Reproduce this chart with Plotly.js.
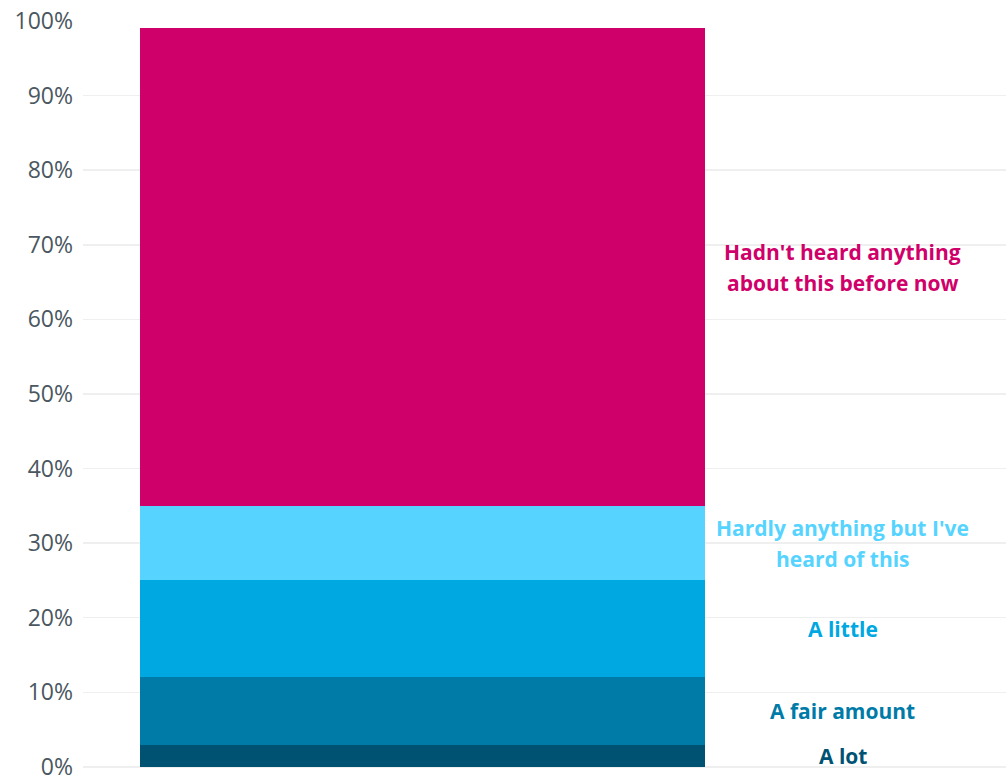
<!DOCTYPE html>
<html>
<head>
<meta charset="utf-8">
<script src="https://cdn.plot.ly/plotly-3.0.1.min.js"></script>
<style>html,body{margin:0;padding:0;background:#fff;}#chart{width:1006px;height:780px;}</style>
</head>
<body>
<div id="chart"></div>
<script>
const categories = ["A lot", "A fair amount", "A little", "Hardly anything but I've<br>heard of this", "Hadn't heard anything<br>about this before now"];
const values = [3, 9, 13, 10, 64];
const colors = ["#005273", "#007ba8", "#00a8e1", "#56d4ff", "#d0006b"];
const yTickVals = [0, 10, 20, 30, 40, 50, 60, 70, 80, 90, 100];
const yTickText = ["0%", "10%", "20%", "30%", "40%", "50%", "60%", "70%", "80%", "90%", "100%"];

const traces = categories.map((c, i) => ({
  type: "bar",
  x: [0],
  y: [values[i]],
  width: [1],
  name: c,
  marker: {color: colors[i], line: {width: 0}},
  hoverinfo: "skip"
}));

const lineGap = 31;
const annotations = [];
let cum = 0;
categories.forEach((c, i) => {
  const mid = cum + values[i] / 2;
  cum += values[i];
  const lines = c.split("<br>");
  lines.forEach((ln, k) => {
    annotations.push({
      x: 0.744, y: mid, xref: "x", yref: "y",
      yshift: ((lines.length - 1) / 2 - k) * lineGap,
      text: "<b>" + ln + "</b>",
      showarrow: false,
      xanchor: "center", yanchor: "middle",
      font: {family: "Open Sans, sans-serif", size: 21, color: colors[i]},
      align: "center"
    });
  });
});

const layout = {
  width: 1006, height: 780,
  margin: {l: 83, r: 0, t: 21, b: 12, pad: 0},
  barmode: "stack",
  showlegend: false,
  paper_bgcolor: "#ffffff",
  plot_bgcolor: "#ffffff",
  xaxis: {range: [-0.601, 1.033], showgrid: false, zeroline: false, showticklabels: false, ticks: "", fixedrange: true},
  yaxis: {
    range: [-0.15, 100], tickvals: yTickVals, ticktext: yTickText,
    showgrid: true, gridcolor: "#efefef", gridwidth: 1.5, zeroline: false,
    ticks: "", ticklabelstandoff: 9, ticklabeloverflow: "allow",
    tickfont: {family: "Open Sans, sans-serif", size: 23, color: "#4a5761"}
  },
  annotations: annotations
};

Plotly.newPlot("chart", traces, layout, {displayModeBar: false, staticPlot: true});
</script>
</body>
</html>
